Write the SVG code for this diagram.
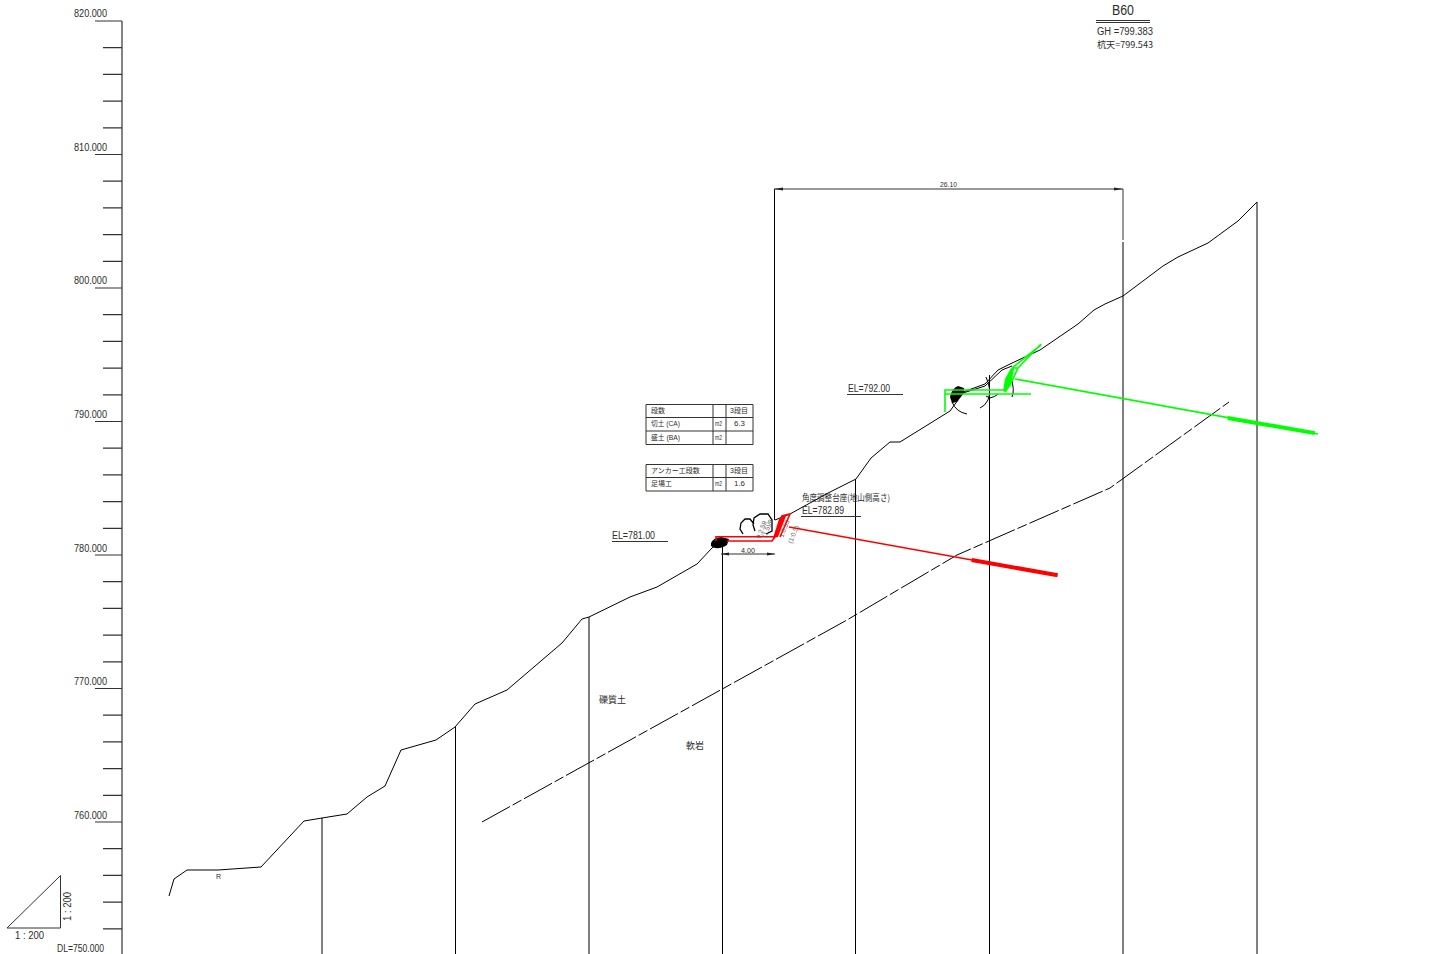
<svg xmlns="http://www.w3.org/2000/svg" width="1439" height="954" viewBox="0 0 1439 954">
<style>
text{font-family:"Liberation Sans","Noto Sans CJK JP",sans-serif;fill:#222;opacity:.95}
.l{fill:none;stroke:#000;stroke-width:1}
.a{fill:none;stroke:#333;stroke-width:1.2}
.t{font-size:10px}
.j{font-family:"Noto Sans CJK JP","Liberation Sans",sans-serif;font-size:9px}
.s{font-size:7px}
.x{font-size:6.5px;fill:#555}
.r{fill:none;stroke:#f00;stroke-width:1.6}
.g{fill:none;stroke:#0f0;stroke-width:1.6}
.c{fill:none;stroke:#333;stroke-width:1}
.k{fill:none;stroke:#000;stroke-width:1.3}
</style>
<rect width="1439" height="954" fill="#fff"/>
<g id="axis">
<path class="a" d="M122 21V954"/>
<path class="a" d="M95 21H122M103 47.700H122M103 74.400H122M103 101.100H122M103 127.800H122M95 154.500H122M103 181.200H122M103 207.900H122M103 234.600H122M103 261.300H122M95 288H122M103 314.700H122M103 341.400H122M103 368.100H122M103 394.800H122M95 421.500H122M103 448.200H122M103 474.900H122M103 501.600H122M103 528.300H122M95 555H122M103 581.700H122M103 608.400H122M103 635.100H122M103 661.800H122M95 688.500H122M103 715.200H122M103 741.900H122M103 768.600H122M103 795.300H122M95 822H122M103 848.700H122M103 875.400H122M103 902.100H122M103 928.800H122"/>
<g class="t">
<text x="74" y="17" textLength="33" lengthAdjust="spacingAndGlyphs">820.000</text>
<text x="74" y="151" textLength="33" lengthAdjust="spacingAndGlyphs">810.000</text>
<text x="74" y="284" textLength="33" lengthAdjust="spacingAndGlyphs">800.000</text>
<text x="74" y="418" textLength="33" lengthAdjust="spacingAndGlyphs">790.000</text>
<text x="74" y="552" textLength="33" lengthAdjust="spacingAndGlyphs">780.000</text>
<text x="74" y="685" textLength="33" lengthAdjust="spacingAndGlyphs">770.000</text>
<text x="74" y="819" textLength="33" lengthAdjust="spacingAndGlyphs">760.000</text>
<text x="57" y="952" textLength="47" lengthAdjust="spacingAndGlyphs">DL=750.000</text>
</g>
</g>
<g id="scale">
<path class="c" d="M7 928H60.500V875.500Z"/>
<text class="t" x="15" y="939" textLength="29" lengthAdjust="spacingAndGlyphs">1 : 200</text>
<text class="t" transform="translate(71,921) rotate(-90)" textLength="29" lengthAdjust="spacingAndGlyphs">1 : 200</text>
</g>
<g id="title">
<text x="1112" y="15" font-size="14" textLength="22" lengthAdjust="spacingAndGlyphs">B60</text>
<path class="c" d="M1096 20.500H1150M1096 22.500H1150"/>
<text class="t" x="1097" y="35" textLength="56" lengthAdjust="spacingAndGlyphs">GH  =799.383</text>
<text class="j" x="1097" y="48" textLength="56" lengthAdjust="spacingAndGlyphs">杭天=799.543</text>
</g>
<g id="connectors">
<path class="l" d="M169 896L174 879L187 870H218L261 867L304 821L322 818L347 814L367 797L385 786L401 750L436 740L455 727L475 704L507 690L562 643L582 619L589 617L630 597L657 587L697 564L712 548"/>
<path class="l" d="M775 520L790 514L830 492L856 479L871 458L890 442H900L950 411L958 400M963 392L985 384L998 370L1010 364L1040 350L1078 324L1094 310L1105 304L1123 296L1163 266L1178 257L1208 243L1238 221L1257 202"/>
<path class="l" d="M322 818V954M455.500 727V954M589 617V954M722.500 545V954M855.500 479V954M989.500 375V954M1123 242V954M1257 202V954M774.500 189V520"/>
<path class="c" d="M1123 189V240"/>
<path class="l" d="M482 822L847 620L957 555L1110 488L1229 402" stroke-dasharray="32 3 10 3"/>
<path class="c" d="M774 189H1123M721 554H775"/>
<path d="M774 189l9-1.500v3zM1123 189l-9-1.500v3zM721 554l8-1.500v3zM775 554l-8-1.500v3z" fill="#222"/>
</g>
<g id="labels">
<text class="s" x="940" y="187" textLength="17" lengthAdjust="spacingAndGlyphs">26.10</text>
<text class="s" x="741" y="553" textLength="14" lengthAdjust="spacingAndGlyphs">4.00</text>
<text class="s" x="216" y="879">R</text>
<text class="j" x="599" y="703">礫質土</text>
<text class="j" x="686" y="749">軟岩</text>
</g>
<g id="el781">
<text class="t" x="612" y="539" textLength="43" lengthAdjust="spacingAndGlyphs">EL=781.00</text>
<path class="c" d="M612 541.500H668"/>
</g>
<g id="el782">
<text class="j" x="802" y="501" textLength="88" lengthAdjust="spacingAndGlyphs">角度調整台座(地山側高さ)</text>
<text class="t" x="802" y="514" textLength="42" lengthAdjust="spacingAndGlyphs">EL=782.89</text>
<path class="c" d="M801 516.500H861"/>
</g>
<g id="el792">
<text class="t" x="848" y="392" textLength="42" lengthAdjust="spacingAndGlyphs">EL=792.00</text>
<path class="c" d="M847 394.500H903"/>
</g>
<g id="table1">
<path class="c" d="M646 404.500H753V444.500H646ZM646 417.500H753M646 431H753M713 404.500V444.500M726 404.500V444.500"/>
<text class="s" x="651" y="413">段数</text>
<text class="s" x="730" y="413">3段目</text>
<text class="s" x="651" y="426" textLength="29" lengthAdjust="spacingAndGlyphs">切土 (CA)</text>
<text class="s" x="715" y="426" textLength="7" lengthAdjust="spacingAndGlyphs">m2</text>
<text class="s" x="734" y="426" textLength="11" lengthAdjust="spacingAndGlyphs">6.3</text>
<text class="s" x="651" y="440" textLength="29" lengthAdjust="spacingAndGlyphs">盛土 (BA)</text>
<text class="s" x="715" y="440" textLength="7" lengthAdjust="spacingAndGlyphs">m2</text>
</g>
<g id="table2">
<path class="c" d="M646 464.500H753V491H646ZM646 477.500H753M713 464.500V491M726 464.500V491"/>
<text class="s" x="651" y="473">アンカー工段数</text>
<text class="s" x="730" y="473">3段目</text>
<text class="s" x="651" y="486">足場工</text>
<text class="s" x="715" y="486" textLength="7" lengthAdjust="spacingAndGlyphs">m2</text>
<text class="s" x="734" y="486" textLength="11" lengthAdjust="spacingAndGlyphs">1.6</text>
</g>
<g id="anchor-lower">
<path d="M711 543Q713 538 721 537L729 539L727 545Q717 551 711 546Z" fill="#000"/>
<path class="l" d="M712 548L718 543"/>
<path class="k" d="M743 534L740 529L741 523L745 519H750L754 524M755 531L753 525L754 518L760 514L768 514L772 520V531L766 534"/>
<path class="r" d="M716 541V536.700H775M727 541H772L775 537"/>
<path class="r" d="M775 537L782 516L790 514L780 537"/>
<path d="M773 538L779 519L784 515L786 516L778 537Z" fill="#f00"/>
<path class="r" d="M789 527L972 560"/>
<path d="M972 558L1058 573.300L1057.300 577.200L971.300 562Z" fill="#f00"/>
<text class="x" transform="translate(760,539) rotate(-68)">9.2.59</text>
<text class="x" transform="translate(766,538) rotate(-68)">(1.5)/9</text>
<text class="x" transform="translate(783,538) rotate(-68)">1:0.53</text>
<text class="x" transform="translate(792,544) rotate(-68)">(1:0.5)</text>
</g>
<g id="anchor-upper">
<path d="M950 397Q952 388 958 386L964 388V393L957 402L952 403Z" fill="#000"/>
<path class="l" d="M963 393L985 386L1002 370L1012 366M952 402Q956 412 967 414M986 377Q992 390 988 400Q985 406 980 408M1011 378Q1015 390 1012 397M986 396L990 398Q995 397 998 394"/>
<path class="g" stroke-width="1.500" d="M945 412V390H1005M945 394H1031"/>
<path d="M1003 391L1005 379L1011 368L1014 369L1011 385L1006 392Z" fill="#0f0"/>
<path class="g" stroke-width="1.500" d="M1005 392L1013 368H1018L1041 344M1012 368L1041 345M1018 368L1010 385"/>
<path class="g" d="M1015 379L1318 434"/>
<path d="M1228 416L1315 431.200L1314.500 435L1227.500 420Z" fill="#0f0"/>
</g>
</svg>
